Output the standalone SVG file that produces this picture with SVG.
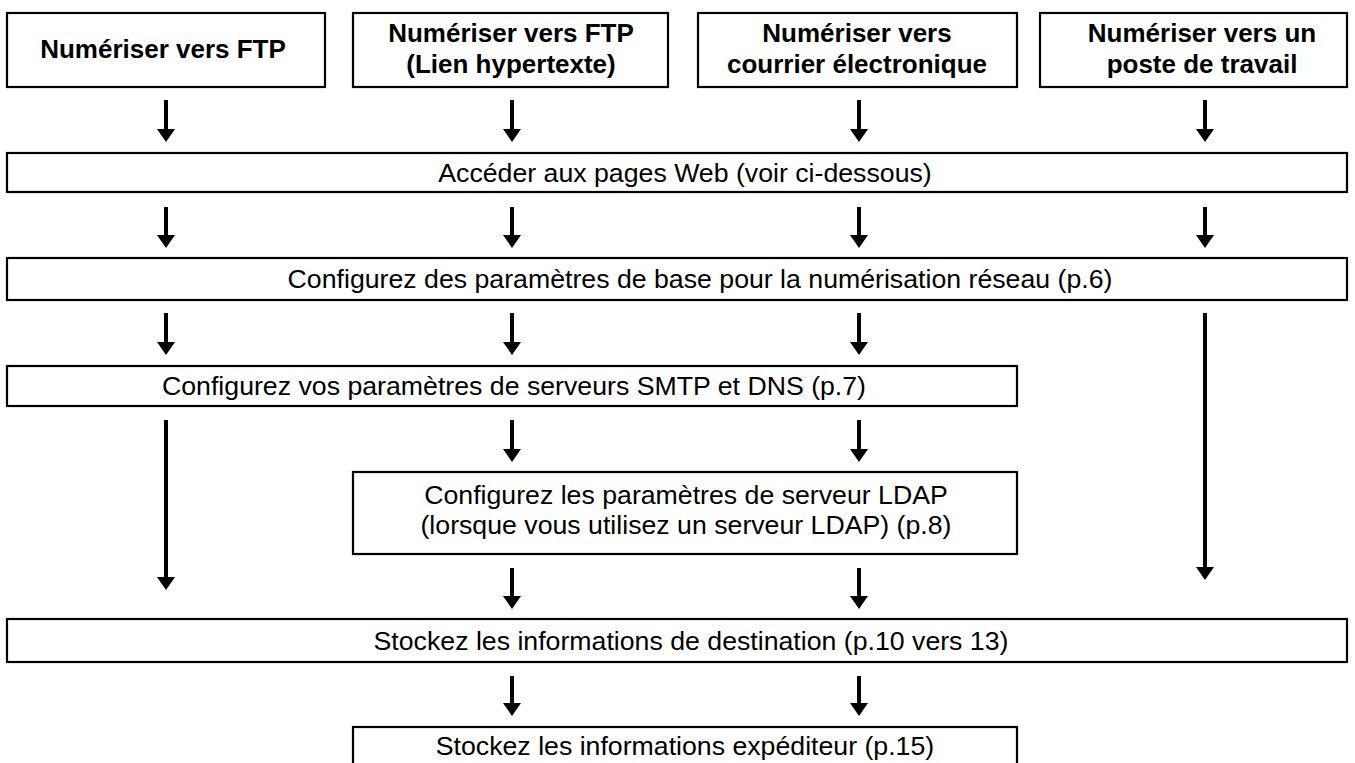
<svg xmlns="http://www.w3.org/2000/svg" width="1355" height="763" viewBox="0 0 1355 763">
<style>
.box{fill:#fff;stroke:#000;stroke-width:2.2}
.t{font-family:"Liberation Sans",Arial,sans-serif;font-size:26.7px;fill:#000;text-anchor:middle}
.b{font-weight:bold;font-size:26px}
.arr{stroke:#000;stroke-width:4;fill:none}
</style>
<defs>
<marker id="ah" markerUnits="userSpaceOnUse" viewBox="0 0 13 18" markerWidth="13" markerHeight="18" refX="1" refY="9" orient="auto">
<path d="M0,0 L13,9 L0,18 z" fill="#000"/>
</marker>
</defs>
<rect width="1355" height="763" fill="#fff"/>
<g id="connectors">
<path class="arr" marker-end="url(#ah)" d="M166,100 V130"/>
<path class="arr" marker-end="url(#ah)" d="M512,100 V130"/>
<path class="arr" marker-end="url(#ah)" d="M859,100 V130"/>
<path class="arr" marker-end="url(#ah)" d="M1205,100 V130"/>
<path class="arr" marker-end="url(#ah)" d="M166,207 V236"/>
<path class="arr" marker-end="url(#ah)" d="M512,207 V236"/>
<path class="arr" marker-end="url(#ah)" d="M859,207 V236"/>
<path class="arr" marker-end="url(#ah)" d="M1205,207 V236"/>
<path class="arr" marker-end="url(#ah)" d="M166,313 V343"/>
<path class="arr" marker-end="url(#ah)" d="M512,313 V343"/>
<path class="arr" marker-end="url(#ah)" d="M859,313 V343"/>
<path class="arr" marker-end="url(#ah)" d="M1205,313 V568"/>
<path class="arr" marker-end="url(#ah)" d="M166,420 V578"/>
<path class="arr" marker-end="url(#ah)" d="M512,420 V450"/>
<path class="arr" marker-end="url(#ah)" d="M859,420 V450"/>
<path class="arr" marker-end="url(#ah)" d="M512,568 V597"/>
<path class="arr" marker-end="url(#ah)" d="M859,568 V597"/>
<path class="arr" marker-end="url(#ah)" d="M512,676 V704"/>
<path class="arr" marker-end="url(#ah)" d="M859,676 V704"/>
</g>
<g id="n1">
<rect class="box" x="7" y="13" width="318" height="74"/>
<text class="t b" x="163" y="58">Numériser vers FTP</text>
</g>
<g id="n2">
<rect class="box" x="353" y="13" width="315" height="74"/>
<text class="t b" x="511" y="42">Numériser vers FTP</text>
<text class="t b" x="511" y="73">(Lien hypertexte)</text>
</g>
<g id="n3">
<rect class="box" x="698" y="13" width="319" height="74"/>
<text class="t b" x="857" y="42">Numériser vers</text>
<text class="t b" x="857" y="73">courrier électronique</text>
</g>
<g id="n4">
<rect class="box" x="1040" y="13" width="307" height="74"/>
<text class="t b" x="1202" y="42">Numériser vers un</text>
<text class="t b" x="1202" y="73">poste de travail</text>
</g>
<g id="n5">
<rect class="box" x="7" y="153" width="1340" height="39"/>
<text class="t" x="685" y="182">Accéder aux pages Web (voir ci-dessous)</text>
</g>
<g id="n6">
<rect class="box" x="7" y="258" width="1340" height="42"/>
<text class="t" x="700" y="288">Configurez des paramètres de base pour la numérisation réseau (p.6)</text>
</g>
<g id="n7">
<rect class="box" x="7" y="366" width="1010" height="40"/>
<text class="t" x="514" y="395">Configurez vos paramètres de serveurs SMTP et DNS (p.7)</text>
</g>
<g id="n8">
<rect class="box" x="353" y="472" width="664" height="82"/>
<text class="t" x="686" y="504">Configurez les paramètres de serveur LDAP</text>
<text class="t" x="686" y="534">(lorsque vous utilisez un serveur LDAP) (p.8)</text>
</g>
<g id="n9">
<rect class="box" x="7" y="619" width="1340" height="43"/>
<text class="t" x="691" y="650">Stockez les informations de destination (p.10 vers 13)</text>
</g>
<g id="n10">
<rect class="box" x="353" y="727" width="664" height="45"/>
<text class="t" x="685" y="755">Stockez les informations expéditeur (p.15)</text>
</g>
</svg>
